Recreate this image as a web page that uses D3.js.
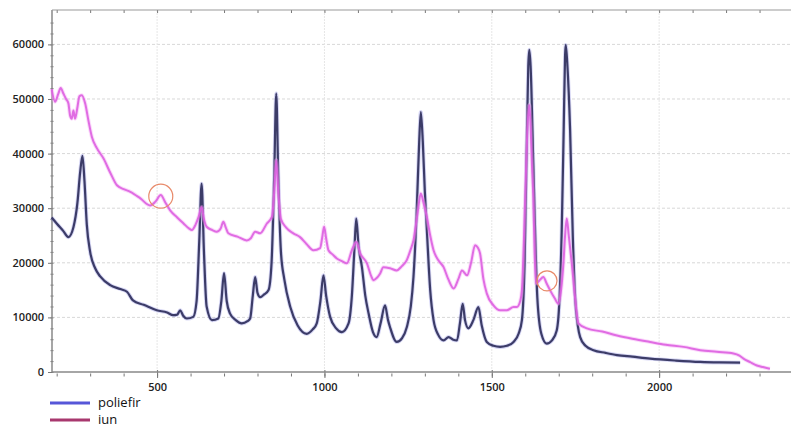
<!DOCTYPE html>
<html>
<head>
<meta charset="utf-8">
<script src="https://cdnjs.cloudflare.com/ajax/libs/d3/7.8.5/d3.min.js"></script>
<style>
  body { margin: 0; background: #fff; }
  svg { display: block; }
  .tick text { font-family: "Open Sans", sans-serif; font-size: 11px; font-weight: 600; fill: #222; }
  .legend text { font-family: "Open Sans", sans-serif; font-size: 13px; fill: #111; }
</style>
</head>
<body>
<div id="chart"></div>
<script>
// raman spectra
var seriesNames = ["poliefir", "iun"];

var poliefirX = [185,200,220,235,250,262,270,277,283,290,300,315,330,360,390,410,428,460,499,530,548,560,569,578,589,608,618,626,633,640,648,664,683,692,700,708,718,735,753,770,778,786,793,800,808,820,833,842,850,856,862,870,880,898,920,947,965,977,988,997,1005,1017,1035,1052,1072,1082,1090,1095,1102,1112,1122,1132,1145,1156,1168,1181,1190,1196,1216,1232,1246,1258,1266,1276,1283,1288,1294,1300,1306,1316,1326,1340,1356,1371,1385,1396,1405,1413,1420,1430,1445,1460,1470,1485,1505,1525,1545,1565,1580,1590,1598,1604,1609,1612,1616,1624,1636,1648,1664,1680,1694,1702,1709,1715,1719,1721,1726,1734,1742,1749,1757,1764,1780,1804,1840,1874,1920,1973,2050,2123,2180,2242];
var poliefirY = [28300,27200,25800,24700,26500,31000,36500,39600,35000,27000,22000,19000,17500,15900,15200,14700,13100,12300,11300,10900,10400,10500,11300,10300,9800,10100,13000,24000,34500,22000,12000,9500,9800,13000,18100,13000,10700,9500,8900,9300,9800,14000,17400,14500,13700,14200,15000,20000,36000,51000,36000,22000,17000,11900,8500,7000,7800,8900,13000,17700,14000,10100,8000,7300,8900,14000,23000,28100,23000,19200,14000,10700,7300,6400,9000,12200,9500,8200,5500,6200,8200,12000,17400,30000,42000,47600,42000,33000,26000,15000,9500,6800,5800,6400,5900,5800,9000,12500,9500,8000,9500,11900,8500,5500,4800,4600,4800,5500,7000,9500,20000,40000,56000,59000,56000,38200,13700,7000,5200,5800,7600,13000,26000,45000,58000,59900,56000,44300,25000,13700,8500,6400,4800,4000,3500,3100,2800,2450,2100,1850,1750,1700];

var iunX = [185,195,205,212,220,228,235,240,245,250,255,262,268,275,285,295,305,320,340,360,380,400,420,450,479,495,511,525,539,560,579,595,604,615,624,633,640,648,665,678,690,698,705,713,740,768,780,793,808,828,843,850,856,862,870,885,907,927,947,967,987,993,999,1005,1012,1025,1037,1052,1067,1082,1095,1107,1127,1140,1146,1156,1166,1176,1196,1216,1230,1246,1258,1266,1278,1288,1296,1306,1316,1326,1340,1356,1370,1386,1400,1411,1426,1438,1450,1458,1465,1475,1485,1505,1525,1545,1565,1575,1585,1590,1600,1606,1612,1616,1620,1624,1628,1632,1643,1654,1664,1674,1688,1699,1707,1714,1719,1724,1730,1739,1749,1759,1784,1830,1874,1920,1973,2020,2073,2123,2172,2222,2240,2252,2272,2292,2310,2331];
var iunY = [51800,49500,51000,52000,51000,50000,49200,47000,46400,47900,46400,48500,50500,50700,49200,46000,43100,41000,39100,36500,34200,33500,33000,31800,30500,31200,32400,31000,29600,28300,27200,26300,26000,27000,28400,30200,28000,26600,26000,25700,26300,27500,26500,25400,24800,24100,24500,25700,25400,27200,28400,33000,38800,33000,28000,26500,25400,24700,23400,22300,22700,24500,26600,24500,22300,21500,20800,20300,19900,22300,23800,21700,19900,17500,16800,17200,18000,19200,19000,18600,19300,20500,22500,24100,29000,32700,31000,28400,25000,22300,20500,19200,17000,15300,17000,18600,17700,20000,23200,22800,21700,17000,14400,12200,11300,11300,11900,11900,13000,15000,32100,44000,48900,45000,38000,32100,22000,16200,16800,17400,16200,15000,13500,12500,15000,19900,25000,28100,25000,19900,13500,8900,8000,7400,6700,6100,5500,5000,4600,4000,3700,3400,3000,2450,1800,1200,900,600];

// annotation circles (x, y in data units)
var markX = [511, 1665];
var markY = [32200, 16700];
var markR = [12, 10];

var yTicks = [0, 10000, 20000, 30000, 40000, 50000, 60000];
var xTicks = [500, 1000, 1500, 2000];

var svg = d3.select("#chart")
    .append("svg")
    .attr("width", 791)
    .attr("height", 427);

var margin = {top: 10, right: 0, bottom: 55, left: 52},
    width = +svg.attr("width") - margin.left - margin.right,
    height = +svg.attr("height") - margin.top - margin.bottom,
    g = svg.append("g").attr("transform", "translate(" + margin.left + "," + margin.top + ")");

var x = d3.scaleLinear().domain([186, 2394]).range([0, width]);
var y = d3.scaleLinear().domain([0, 66300]).range([height, 0]);

// grid
g.append("g").selectAll("line")
    .data(yTicks.slice(1))
    .enter().append("line")
      .attr("x1", 0).attr("x2", width)
      .attr("y1", function(d) { return y(d); })
      .attr("y2", function(d) { return y(d); })
      .attr("stroke", "#d8d8d8")
      .attr("stroke-dasharray", "3,2");

g.append("g").selectAll("line")
    .data(xTicks)
    .enter().append("line")
      .attr("y1", 0).attr("y2", height)
      .attr("x1", function(d) { return x(d); })
      .attr("x2", function(d) { return x(d); })
      .attr("stroke", "#e6e6e6")
      .attr("stroke-dasharray", "2,1");

// axes
var xAxis = d3.axisBottom(x).tickValues(xTicks).tickSizeInner(4).tickSizeOuter(0).tickPadding(9).tickFormat(d3.format("d"));
var xMinor = d3.axisBottom(x).tickValues(d3.range(200, 2400, 100)).tickSize(3).tickFormat("");
var xTop = d3.axisBottom(x).tickValues(d3.range(200, 2400, 100)).tickSize(3).tickFormat("");
var yAxis = d3.axisLeft(y).tickValues(yTicks).tickSizeInner(4).tickSizeOuter(0).tickPadding(4).tickFormat(d3.format("d"));
var yMinor = d3.axisLeft(y).tickValues(d3.range(0, 66000, 2000)).tickSize(3).tickFormat("");

g.append("g").attr("class", "x minor").attr("transform", "translate(0," + (height + 1.5) + ")").call(xMinor);
g.append("g").attr("class", "x axis").attr("transform", "translate(0," + (height - 2) + ")").call(xAxis);
g.append("g").attr("class", "x top").call(xTop);
g.append("g").attr("class", "y minor").attr("transform", "translate(1.5,0)").call(yMinor);
g.append("g").attr("class", "y axis").call(yAxis);

g.selectAll(".domain").remove();
g.selectAll(".tick line").attr("stroke", "#777");
g.selectAll(".x.axis .tick line").attr("y1", 0).attr("y2", 8);

g.append("line").attr("x1", 0).attr("x2", width).attr("y1", height).attr("y2", height)
    .attr("stroke", "#888").attr("stroke-width", 1.5);
g.append("line").attr("x1", 0).attr("x2", 0).attr("y1", 0).attr("y2", height)
    .attr("stroke", "#888").attr("stroke-width", 1.5);
g.append("line").attr("x1", 0).attr("x2", width).attr("y1", 0).attr("y2", 0)
    .attr("stroke", "#999").attr("stroke-width", 1);

var line = d3.line()
    .x(function(d) { return x(d[0]); })
    .y(function(d) { return y(d[1]); })
    .curve(d3.curveMonotoneX);

var poliefir = poliefirX.map(function(v, i) { return [v, poliefirY[i]]; });
var iun = iunX.map(function(v, i) { return [v, iunY[i]]; });

g.append("path").datum(poliefir)
    .attr("fill", "none")
    .attr("stroke", "#8a8ae0")
    .attr("stroke-opacity", 0.35)
    .attr("stroke-width", 4)
    .attr("d", line);
g.append("path").datum(poliefir)
    .attr("fill", "none")
    .attr("stroke", "#3c3c68")
    .attr("stroke-width", 2.2)
    .attr("stroke-linejoin", "round")
    .attr("d", line);

g.append("path").datum(iun)
    .attr("fill", "none")
    .attr("stroke", "#f4a0f4")
    .attr("stroke-opacity", 0.4)
    .attr("stroke-width", 4)
    .attr("d", line);
g.append("path").datum(iun)
    .attr("fill", "none")
    .attr("stroke", "#dd5fe0")
    .attr("stroke-opacity", 0.9)
    .attr("stroke-width", 2)
    .attr("stroke-linejoin", "round")
    .attr("d", line);

// circles
g.append("g").selectAll("circle")
    .data(markX)
    .enter().append("circle")
      .attr("cx", function(d) { return x(d); })
      .attr("cy", function(d, i) { return y(markY[i]); })
      .attr("r", function(d, i) { return markR[i]; })
      .attr("fill", "none")
      .attr("stroke", "#e88a6a")
      .attr("stroke-width", 1.2);

// legend
var legendColors = ["#5656d8", "#a8386e"];
var legend = svg.append("g").attr("class", "legend")
    .selectAll("g")
    .data(seriesNames)
    .enter().append("g")
      .attr("transform", function(d, i) { return "translate(50," + (403 + i * 17) + ")"; });

legend.append("line")
    .attr("x1", 0).attr("x2", 40)
    .attr("stroke", function(d, i) { return legendColors[i]; })
    .attr("stroke-width", 3);
legend.append("text")
    .attr("x", 48)
    .attr("y", 4)
    .text(function(d) { return d; });
</script>
</body>
</html>
